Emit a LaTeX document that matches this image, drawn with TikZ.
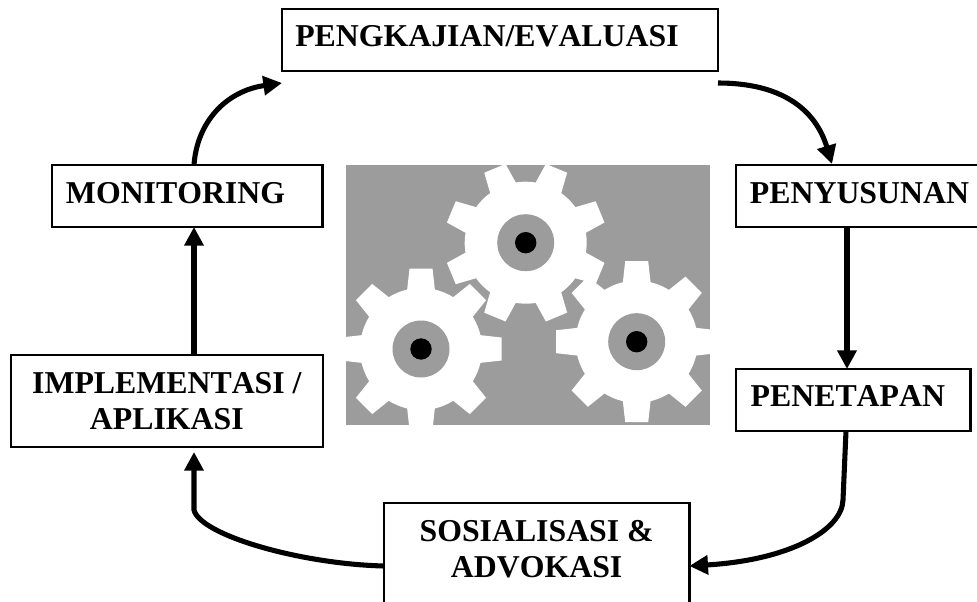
\documentclass[tikz,border=0pt]{standalone}
\usepackage{fontspec}
\setmainfont[Kerning=Off]{Liberation Serif}
\usetikzlibrary{arrows.meta}
\newcommand{\gearshape}[3]{% x, y, rotation
  \begin{scope}[shift={(#1,#2)},rotate=#3]
    \fill[gearwhite] (0,0) circle (61);
    \foreach \a in {0,45,...,315}{
      \fill[gearwhite,rotate=\a] (58,-14) -- (80.5,-11.5) -- (80.5,11.5) -- (58,14) -- cycle;
    }
    \fill[panelgray] (0,0) circle (28.5);
    \fill[black] (0,0) circle (10.7);
  \end{scope}
}
\definecolor{panelgray}{HTML}{9C9C9C}
\definecolor{gearwhite}{HTML}{FFFFFF}
\tikzset{
  x=0.75pt,y=-0.75pt,
  box/.style={draw=black,line width=1.8pt,fill=white,inner sep=0pt,outer sep=0pt,anchor=north west},
  lbl/.style={font=\fontsize{23.85pt}{26.8pt}\selectfont\bfseries,align=center,text=black},
  flow/.style={line width=3.8pt,draw=black,-{Triangle[length=14pt,width=14pt]}},
}
\begin{document}
\begin{tikzpicture}
\useasboundingbox (0,0) rectangle (977,602);
\node[fill=panelgray,inner sep=0pt,minimum width=273pt,minimum height=195pt,anchor=north west] (panel) at (346,165) {};
\begin{scope}
  \clip (346,165) rectangle (710,425);
  \gearshape{525.7}{242.7}{22.5}
  \gearshape{421}{349}{0}
  \gearshape{636.7}{341.7}{0}
\end{scope}
\begin{scope}
\clip (0,0) rectangle (977,602);
\node[box,minimum width=327pt,minimum height=46.5pt,label={[lbl,xshift=-9.75pt,yshift=3pt]center:PENGKAJIAN/EVALUASI}] (eval) at (282,9) {};
\node[box,minimum width=203pt,minimum height=46.5pt,label={[lbl,xshift=-8.85pt,yshift=1.85pt]center:MONITORING}] (mon) at (52,165) {};
\node[box,minimum width=183pt,minimum height=46.5pt,label={[lbl,xshift=1.1pt,yshift=2.1pt]center:PENYUSUNAN}] (peny) at (736,165) {};
\node[box,minimum width=176pt,minimum height=46.5pt,label={[lbl,xshift=-4.1pt,yshift=2.65pt]center:PENETAPAN}] (pene) at (736,369) {};
\node[box,minimum width=233.8pt,minimum height=69pt,label={[lbl,xshift=0pt,yshift=0pt]center:IMPLEMENTASI /\\APLIKASI}] (impl) at (11,355) {};
\node[box,minimum width=229pt,minimum height=90pt,label={[lbl,xshift=0pt,yshift=10.5pt]center:SOSIALISASI \&\\ADVOKASI}] (sos) at (384,503) {};
\end{scope}
\coordinate (evalR) at (718,83);
\coordinate (evalL) at (282,83);
\coordinate (penyT) at (832,164);
\draw[flow] (mon.north -| 194,165) .. controls (197,122) and (226,91) .. (evalL);
\draw[flow] (evalR) .. controls (780,83) and (815,108) .. (penyT);
\draw[flow] (peny.south -| 847,227) -- (pene.north -| 847,369);
\draw[flow] (pene.south -| 846,431) -- (843,500) .. controls (842,530) and (790,560) .. (sos.east |- 689,566);
\draw[flow] (sos.west |- 384,566) .. controls (300,564) and (200,535) .. (194,510) -- (194,452);
\draw[flow] (impl.north -| 194,355) -- (mon.south -| 194,227);
\end{tikzpicture}
\end{document}
